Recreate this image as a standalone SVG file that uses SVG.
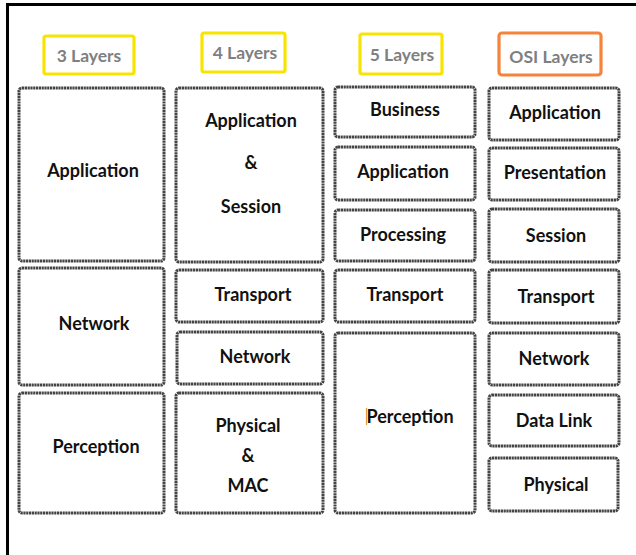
<svg xmlns="http://www.w3.org/2000/svg" width="636" height="555" viewBox="0 0 636 555">
<style>
.box{fill:#fff;stroke:#444;stroke-width:3;stroke-dasharray:2.2 0.6}
.hy{fill:#fff;stroke:#f7e400;stroke-width:3.2}
.ho{fill:#fff;stroke:#f5843a;stroke-width:3.2}
.t{font-family:Lato,"Open Sans","Liberation Sans",sans-serif;font-weight:bold;font-size:18px;fill:#111;text-anchor:middle}
.h{font-family:Lato,"Open Sans","Liberation Sans",sans-serif;font-weight:bold;font-size:17.5px;fill:#7f7f7f;text-anchor:middle}
</style>
<rect width="636" height="555" fill="#fff"/>
<path d="M7.5,555 V4.5 H636" fill="none" stroke="#000" stroke-width="3"/>
<g id="header-3"><rect class="hy" x="44" y="36" width="90" height="38" rx="2"/><text class="h" x="89" y="62">3 Layers</text></g>
<g id="header-4"><rect class="hy" x="202" y="33" width="83" height="39" rx="2"/><text class="h" x="245" y="59">4 Layers</text></g>
<g id="header-5"><rect class="hy" x="360" y="34" width="82" height="40" rx="2"/><text class="h" x="402" y="61">5 Layers</text></g>
<g id="header-osi"><rect class="ho" x="499" y="33" width="102" height="42" rx="3"/><text class="h" x="551" y="63">OSI Layers</text></g>

<g id="c3-application"><rect class="box" x="19" y="88" width="145" height="173" rx="3"/><text class="t" x="93" y="177">Application</text></g>
<g id="c3-network"><rect class="box" x="19" y="268" width="145" height="117" rx="3"/><text class="t" x="94" y="330">Network</text></g>
<g id="c3-perception"><rect class="box" x="19" y="393" width="145" height="120" rx="3"/><text class="t" x="96" y="453">Perception</text></g>

<g id="c4-appsession"><rect class="box" x="176" y="88" width="147" height="174" rx="3"/><text class="t" x="251" y="127">Application</text><text class="t" x="251" y="169">&amp;</text><text class="t" x="251" y="213">Session</text></g>
<g id="c4-transport"><rect class="box" x="176" y="270" width="147" height="52" rx="3"/><text class="t" x="253" y="301">Transport</text></g>
<g id="c4-network"><rect class="box" x="177" y="332" width="146" height="52" rx="3"/><text class="t" x="255" y="363">Network</text></g>
<g id="c4-physmac"><rect class="box" x="176" y="393" width="147" height="120" rx="3"/><text class="t" x="248" y="432">Physical</text><text class="t" x="248" y="462">&amp;</text><text class="t" x="248" y="492">MAC</text></g>

<g id="c5-business"><rect class="box" x="335" y="87" width="140" height="50" rx="3"/><text class="t" x="405" y="116">Business</text></g>
<g id="c5-application"><rect class="box" x="335" y="147" width="140" height="53" rx="3"/><text class="t" x="403" y="178">Application</text></g>
<g id="c5-processing"><rect class="box" x="335" y="210" width="140" height="51" rx="3"/><text class="t" x="403" y="241">Processing</text></g>
<g id="c5-transport"><rect class="box" x="335" y="270" width="140" height="52" rx="3"/><text class="t" x="405" y="301">Transport</text></g>
<g id="c5-perception"><rect class="box" x="335" y="333" width="140" height="180" rx="3"/><line x1="366.5" y1="408" x2="366.5" y2="425" stroke="#e39a3a" stroke-width="1.2"/><text class="t" x="410" y="423">Perception</text></g>

<g id="osi-application"><rect class="box" x="489" y="88" width="130" height="52" rx="3"/><text class="t" x="555" y="119">Application</text></g>
<g id="osi-presentation"><rect class="box" x="489" y="148" width="130" height="52" rx="3"/><text class="t" x="555" y="179">Presentation</text></g>
<g id="osi-session"><rect class="box" x="489" y="209" width="130" height="53" rx="3"/><text class="t" x="556" y="242">Session</text></g>
<g id="osi-transport"><rect class="box" x="489" y="270" width="130" height="53" rx="3"/><text class="t" x="556" y="303">Transport</text></g>
<g id="osi-network"><rect class="box" x="489" y="333" width="130" height="52" rx="3"/><text class="t" x="554" y="365">Network</text></g>
<g id="osi-datalink"><rect class="box" x="489" y="395" width="130" height="51" rx="3"/><text class="t" x="554" y="427">Data Link</text></g>
<g id="osi-physical"><rect class="box" x="489" y="458" width="129" height="53" rx="3"/><text class="t" x="556" y="491">Physical</text></g>
<g id="connectors"/>
</svg>
